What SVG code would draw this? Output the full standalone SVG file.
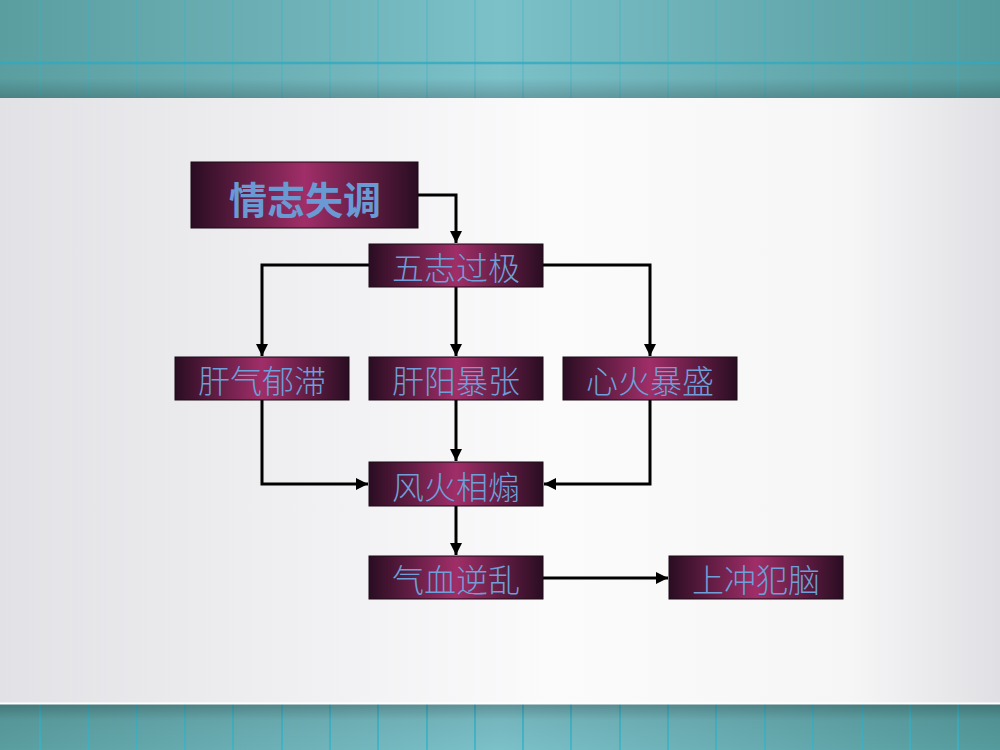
<svg xmlns="http://www.w3.org/2000/svg" width="1000" height="750" viewBox="0 0 1000 750">
<defs>
<linearGradient id="band" x1="0" y1="0" x2="1" y2="0">
<stop offset="0" stop-color="#5a9ea0"/>
<stop offset="0.5" stop-color="#7cc0c8"/>
<stop offset="1" stop-color="#559a9c"/>
</linearGradient>
<linearGradient id="bandShade" x1="0" y1="0" x2="0" y2="1">
<stop offset="0" stop-color="#000" stop-opacity="0"/>
<stop offset="0.8" stop-color="#000" stop-opacity="0"/>
<stop offset="1" stop-color="#000" stop-opacity="0.18"/>
</linearGradient>
<linearGradient id="bandShade2" x1="0" y1="0" x2="0" y2="1">
<stop offset="0" stop-color="#000" stop-opacity="0.25"/>
<stop offset="0.35" stop-color="#000" stop-opacity="0.05"/>
<stop offset="1" stop-color="#000" stop-opacity="0"/>
</linearGradient>
<linearGradient id="page" x1="0" y1="0" x2="1" y2="0">
<stop offset="0" stop-color="#e2e2e6"/>
<stop offset="0.55" stop-color="#fbfbfc"/>
<stop offset="0.85" stop-color="#f6f6f7"/>
<stop offset="1" stop-color="#e0e0e4"/>
</linearGradient>
<linearGradient id="box" x1="0" y1="0" x2="1" y2="0">
<stop offset="0" stop-color="#2a0d22"/>
<stop offset="0.5" stop-color="#a02e68"/>
<stop offset="1" stop-color="#2a0d22"/>
</linearGradient>
<marker id="a" viewBox="0 0 10 10" refX="10" refY="5" markerWidth="12" markerHeight="12" orient="auto" markerUnits="userSpaceOnUse">
<path d="M0,0 L10,5 L0,10 z" fill="#000"/>
</marker>
</defs>
<style>
.bx{fill:url(#box);stroke:#1a0a14;stroke-width:1}
.t{font-family:"Noto Sans CJK SC","Noto Sans CJK JP",sans-serif;font-size:32px;fill:#6e9fd8;font-weight:300;text-anchor:middle;dominant-baseline:central}
.tb{font-size:38px;font-weight:700;fill:#6a9ad4}
.c{fill:none;stroke:#000;stroke-width:3;marker-end:url(#a)}
.vl{stroke:#3ab4c8;stroke-width:2}
</style>
<!-- background -->
<rect x="0" y="0" width="1000" height="98" fill="url(#band)"/>
<g class="vl" opacity="0.3">
<line x1="40" y1="0" x2="40" y2="98"/><line x1="88" y1="0" x2="88" y2="98"/><line x1="137" y1="0" x2="137" y2="98"/><line x1="185" y1="0" x2="185" y2="98"/><line x1="233" y1="0" x2="233" y2="98"/><line x1="282" y1="0" x2="282" y2="98"/><line x1="330" y1="0" x2="330" y2="98"/><line x1="378" y1="0" x2="378" y2="98"/><line x1="427" y1="0" x2="427" y2="98"/><line x1="475" y1="0" x2="475" y2="98"/><line x1="523" y1="0" x2="523" y2="98"/><line x1="571" y1="0" x2="571" y2="98"/><line x1="620" y1="0" x2="620" y2="98"/><line x1="668" y1="0" x2="668" y2="98"/><line x1="716" y1="0" x2="716" y2="98"/><line x1="765" y1="0" x2="765" y2="98"/><line x1="813" y1="0" x2="813" y2="98"/><line x1="862" y1="0" x2="862" y2="98"/><line x1="910" y1="0" x2="910" y2="98"/><line x1="958" y1="0" x2="958" y2="98"/>
</g>
<line x1="0" y1="63" x2="1000" y2="63" stroke="#30aac0" stroke-width="2.5" opacity="0.8"/>
<rect x="0" y="0" width="1000" height="98" fill="url(#bandShade)"/>
<rect x="0" y="98" width="1000" height="606" fill="url(#page)"/>
<rect x="0" y="704" width="1000" height="46" fill="url(#band)"/>
<g class="vl" opacity="0.8">
<line x1="40" y1="704" x2="40" y2="750"/><line x1="88" y1="704" x2="88" y2="750"/><line x1="137" y1="704" x2="137" y2="750"/><line x1="185" y1="704" x2="185" y2="750"/><line x1="233" y1="704" x2="233" y2="750"/><line x1="282" y1="704" x2="282" y2="750"/><line x1="330" y1="704" x2="330" y2="750"/><line x1="378" y1="704" x2="378" y2="750"/><line x1="427" y1="704" x2="427" y2="750"/><line x1="475" y1="704" x2="475" y2="750"/><line x1="523" y1="704" x2="523" y2="750"/><line x1="571" y1="704" x2="571" y2="750"/><line x1="620" y1="704" x2="620" y2="750"/><line x1="668" y1="704" x2="668" y2="750"/><line x1="716" y1="704" x2="716" y2="750"/><line x1="765" y1="704" x2="765" y2="750"/><line x1="813" y1="704" x2="813" y2="750"/><line x1="862" y1="704" x2="862" y2="750"/><line x1="910" y1="704" x2="910" y2="750"/><line x1="958" y1="704" x2="958" y2="750"/>
</g>
<rect x="0" y="704" width="1000" height="46" fill="url(#bandShade2)"/>
<line x1="0" y1="703.5" x2="1000" y2="703.5" stroke="#ffffff" stroke-width="2"/>

<!-- connectors -->
<g id="connectors">
<path class="c" d="M418,195 H456 V243"/>
<path class="c" d="M369,265 H262 V356"/>
<path class="c" d="M456,287 V356"/>
<path class="c" d="M543,265 H650 V356"/>
<path class="c" d="M262,400 V484 H368"/>
<path class="c" d="M456,400 V461"/>
<path class="c" d="M650,400 V484 H544"/>
<path class="c" d="M456,506 V555"/>
<path class="c" d="M543,578 H668"/>
</g>

<!-- nodes -->
<g id="n1"><rect class="bx" x="191" y="162" width="227" height="66"/><text class="t tb" x="305" y="197">情志失调</text></g>
<g id="n2"><rect class="bx" x="369" y="244" width="174" height="43"/><text class="t" x="456" y="266">五志过极</text></g>
<g id="n3"><rect class="bx" x="175" y="357" width="174" height="43"/><text class="t" x="262" y="379">肝气郁滞</text></g>
<g id="n4"><rect class="bx" x="369" y="357" width="174" height="43"/><text class="t" x="456" y="379">肝阳暴张</text></g>
<g id="n5"><rect class="bx" x="563" y="357" width="174" height="43"/><text class="t" x="650" y="379">心火暴盛</text></g>
<g id="n6"><rect class="bx" x="369" y="462" width="174" height="44"/><text class="t" x="456" y="485">风火相煽</text></g>
<g id="n7"><rect class="bx" x="369" y="556" width="174" height="43"/><text class="t" x="456" y="578">气血逆乱</text></g>
<g id="n8"><rect class="bx" x="669" y="556" width="174" height="43"/><text class="t" x="756" y="578">上冲犯脑</text></g>
</svg>
